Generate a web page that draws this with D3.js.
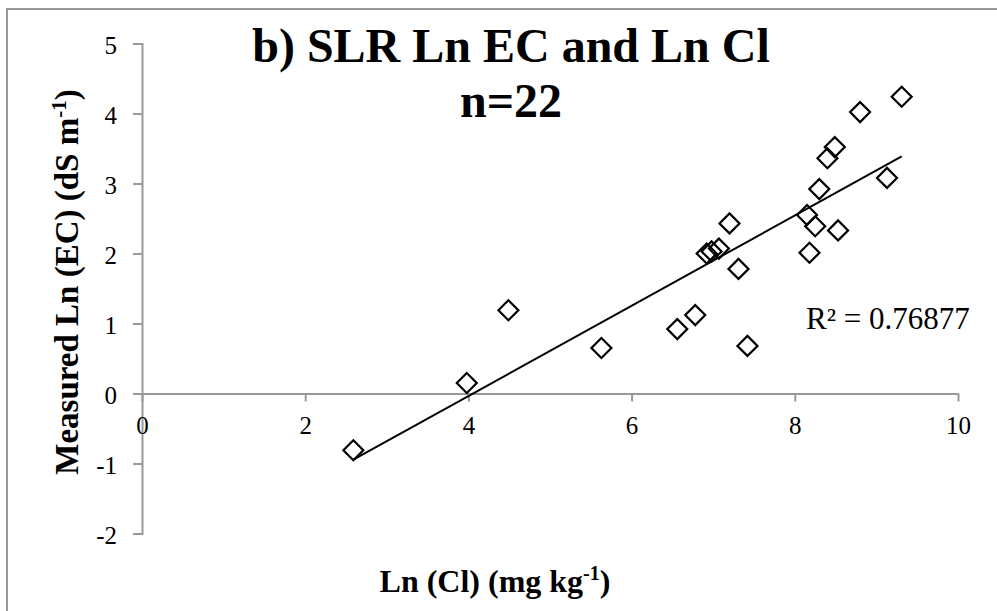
<!DOCTYPE html>
<html><head><meta charset="utf-8">
<script src="https://cdn.jsdelivr.net/npm/d3@7"></script>
<style>html,body{margin:0;padding:0;background:#fff;}svg{display:block;}</style>
</head><body>
<script>
const lnCl = [2.59, 3.98, 4.49, 5.63, 6.56, 6.78, 6.92, 6.98, 7.07, 7.20, 7.31, 7.42, 8.15, 8.25, 8.18, 8.53, 8.30, 8.40, 8.49, 8.80, 9.31, 9.13];
const lnEC = [-0.81, 0.15, 1.19, 0.65, 0.92, 1.12, 2.00, 2.03, 2.07, 2.43, 1.78, 0.68, 2.55, 2.39, 2.01, 2.33, 2.92, 3.36, 3.52, 4.02, 4.24, 3.08];
const xTicks = [0, 2, 4, 6, 8, 10];
const yTicks = [-2, -1, 0, 1, 2, 3, 4, 5];
const titleLines = ["b) SLR Ln EC and Ln Cl", "n=22"];
const r2Label = "R² = 0.76877";

const W = 997, H = 611;
const svg = d3.select("body").append("svg").attr("width", W).attr("height", H);

// outer frame
svg.append("rect").attr("x", 7).attr("y", 9).attr("width", 1000).attr("height", 700)
  .attr("fill", "none").attr("stroke", "#999").attr("stroke-width", 2);

const x = d3.scaleLinear().domain([0, 10]).range([142, 958]);
const y = d3.scaleLinear().domain([-2, 5]).range([533.5, 43.5]);
const grey = "#999";
const serif = "'Liberation Serif', 'Times New Roman', serif";

// y axis
const yAx = svg.append("g").attr("transform", `translate(${x(0)},0)`)
  .call(d3.axisLeft(y).tickValues(yTicks).tickSize(9).tickPadding(16).tickFormat(d => String(d)));
yAx.select(".domain").attr("stroke", grey).attr("stroke-width", 2);
yAx.selectAll(".tick line").attr("stroke", grey).attr("stroke-width", 2);
yAx.selectAll(".tick text").attr("font-family", serif).attr("font-size", 25).attr("fill", "#000").attr("dy", "0.38em");

// x axis at y=0
const xAx = svg.append("g").attr("transform", `translate(0,${y(0)})`)
  .call(d3.axisBottom(x).tickValues(xTicks).tickSize(8).tickSizeOuter(0).tickPadding(15).tickFormat(d => String(d)));
xAx.select(".domain").attr("stroke", grey).attr("stroke-width", 2);
xAx.selectAll(".tick line").attr("stroke", grey).attr("stroke-width", 2);
xAx.selectAll(".tick text").attr("font-family", serif).attr("font-size", 25).attr("fill", "#000");

// regression line
const n = lnCl.length;
const mx = d3.mean(lnCl), my = d3.mean(lnEC);
let sxy = 0, sxx = 0;
for (let i = 0; i < n; i++) { sxy += (lnCl[i]-mx)*(lnEC[i]-my); sxx += (lnCl[i]-mx)**2; }
const slope = sxy / sxx, icpt = my - slope * mx;
const xr = d3.extent(lnCl);
svg.append("line")
  .attr("x1", x(xr[0])).attr("y1", y(icpt + slope*xr[0]))
  .attr("x2", x(xr[1])).attr("y2", y(icpt + slope*xr[1]))
  .attr("stroke", "#000").attr("stroke-width", 2);

// points
const sym = d3.symbol().type(d3.symbolSquare).size(200);
svg.append("g").selectAll("path").data(lnCl).join("path")
  .attr("d", sym)
  .attr("transform", (d, i) => `translate(${x(d)},${y(lnEC[i])}) rotate(45)`)
  .attr("fill", "none").attr("stroke", "#000").attr("stroke-width", 2.2);

// title
svg.append("text").attr("x", 511).attr("y", 62).attr("text-anchor", "middle")
  .attr("font-family", serif).attr("font-weight", "bold").attr("font-size", 48).text(titleLines[0]);
svg.append("text").attr("x", 511).attr("y", 117).attr("text-anchor", "middle")
  .attr("font-family", serif).attr("font-weight", "bold").attr("font-size", 48).text(titleLines[1]);

// R2
svg.append("text").attr("x", 806).attr("y", 329).attr("font-family", serif)
  .attr("font-size", 31).text(r2Label);

// axis titles
const xt = svg.append("text").attr("x", 495).attr("y", 592).attr("text-anchor", "middle")
  .attr("font-family", serif).attr("font-weight", "bold").attr("font-size", 32);
xt.append("tspan").text("Ln (Cl) (mg kg");
xt.append("tspan").attr("font-size", 20).attr("dy", -12).text("-1");
xt.append("tspan").attr("dy", 12).text(")");

const yt = svg.append("text").attr("transform", "translate(78,282) rotate(-90)").attr("text-anchor", "middle")
  .attr("font-family", serif).attr("font-weight", "bold").attr("font-size", 33);
yt.append("tspan").text("Measured Ln (EC) (dS m");
yt.append("tspan").attr("font-size", 21).attr("dy", -12).text("-1");
yt.append("tspan").attr("dy", 12).text(")");
</script>
</body></html>
